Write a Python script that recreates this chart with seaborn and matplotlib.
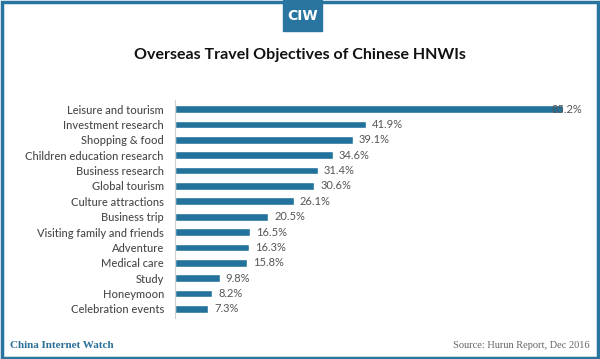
import matplotlib.pyplot as plt
import seaborn as sns
import pandas as pd
from matplotlib.patches import Rectangle

# Data
objectives = ["Leisure and tourism", "Investment research", "Shopping & food",
              "Children education research", "Business research", "Global tourism",
              "Culture attractions", "Business trip", "Visiting family and friends",
              "Adventure", "Medical care", "Study", "Honeymoon", "Celebration events"]
shares = [85.2, 41.9, 39.1, 34.6, 31.4, 30.6, 26.1, 20.5, 16.5, 16.3, 15.8, 9.8, 8.2, 7.3]

df = pd.DataFrame({"objective": objectives, "share": shares})

blue = "#22729c"
sns.set_style("white")
plt.rcParams["font.family"] = ["Lato", "DejaVu Sans"]

fig = plt.figure(figsize=(6, 3.59), dpi=100)
ax = fig.add_axes([175 / 600, 1 - 318 / 359, 410 / 600, 218 / 359])

sns.barplot(data=df, x="share", y="objective", color=blue, width=0.5,
            saturation=1, ax=ax)

ax.set_xlim(0, 90)
ax.set_ylim(13.6, -0.6)
ax.set_xlabel("")
ax.set_ylabel("")
ax.set_xticks([])
for s in ["top", "right", "bottom"]:
    ax.spines[s].set_visible(False)
ax.spines["left"].set_color("#d0d0d0")
ax.spines["left"].set_linewidth(0.8)
ax.tick_params(axis="y", length=0, pad=8, labelsize=8, labelcolor="#4a4a4a")
for lab in ax.get_yticklabels():
    lab.set_fontweight("medium")
# small tick marks between categories
ax.set_yticks([i + 0.5 for i in range(-1, len(objectives))], minor=True)
ax.tick_params(axis="y", which="minor", length=3, color="#d0d0d0", width=0.8)

for i, v in enumerate(shares):
    x = v + 1.3 if i > 0 else v - 2.5
    ax.text(x, i, f"{v}%", va="center", ha="left", fontsize=8, color="#555555")

# title and CIW badge
fig.text(0.5, 1 - 55 / 359, "Overseas Travel Objectives of Chinese HNWIs",
         ha="center", va="center", fontsize=11.5, fontweight="bold", color="#111111")
fig.patches.append(Rectangle((283 / 600, 1 - 31 / 359), 39 / 600, 31 / 359,
                             transform=fig.transFigure, color="#2a75a0", zorder=2))
fig.text(302.5 / 600, 1 - 16 / 359, "CIW", ha="center", va="center", fontsize=10,
         fontweight="bold", color="white", family=["DejaVu Sans"], zorder=3)

# frame
fig.patches.append(Rectangle((0.003, 0.004), 0.994, 0.99, transform=fig.transFigure,
                             fill=False, edgecolor="#2a75a0", linewidth=2.5, zorder=1))

# footer
fig.text(10 / 600, 1 - 345 / 359, "China Internet Watch", ha="left", va="center",
         fontsize=8, fontweight="bold", color="#2a6f98", family=["Liberation Serif"])
fig.text(590 / 600, 1 - 345 / 359, "Source: Hurun Report, Dec 2016", ha="right",
         va="center", fontsize=7.5, color="#666666", family=["Liberation Serif"])

fig.savefig("out.png", dpi=100)
